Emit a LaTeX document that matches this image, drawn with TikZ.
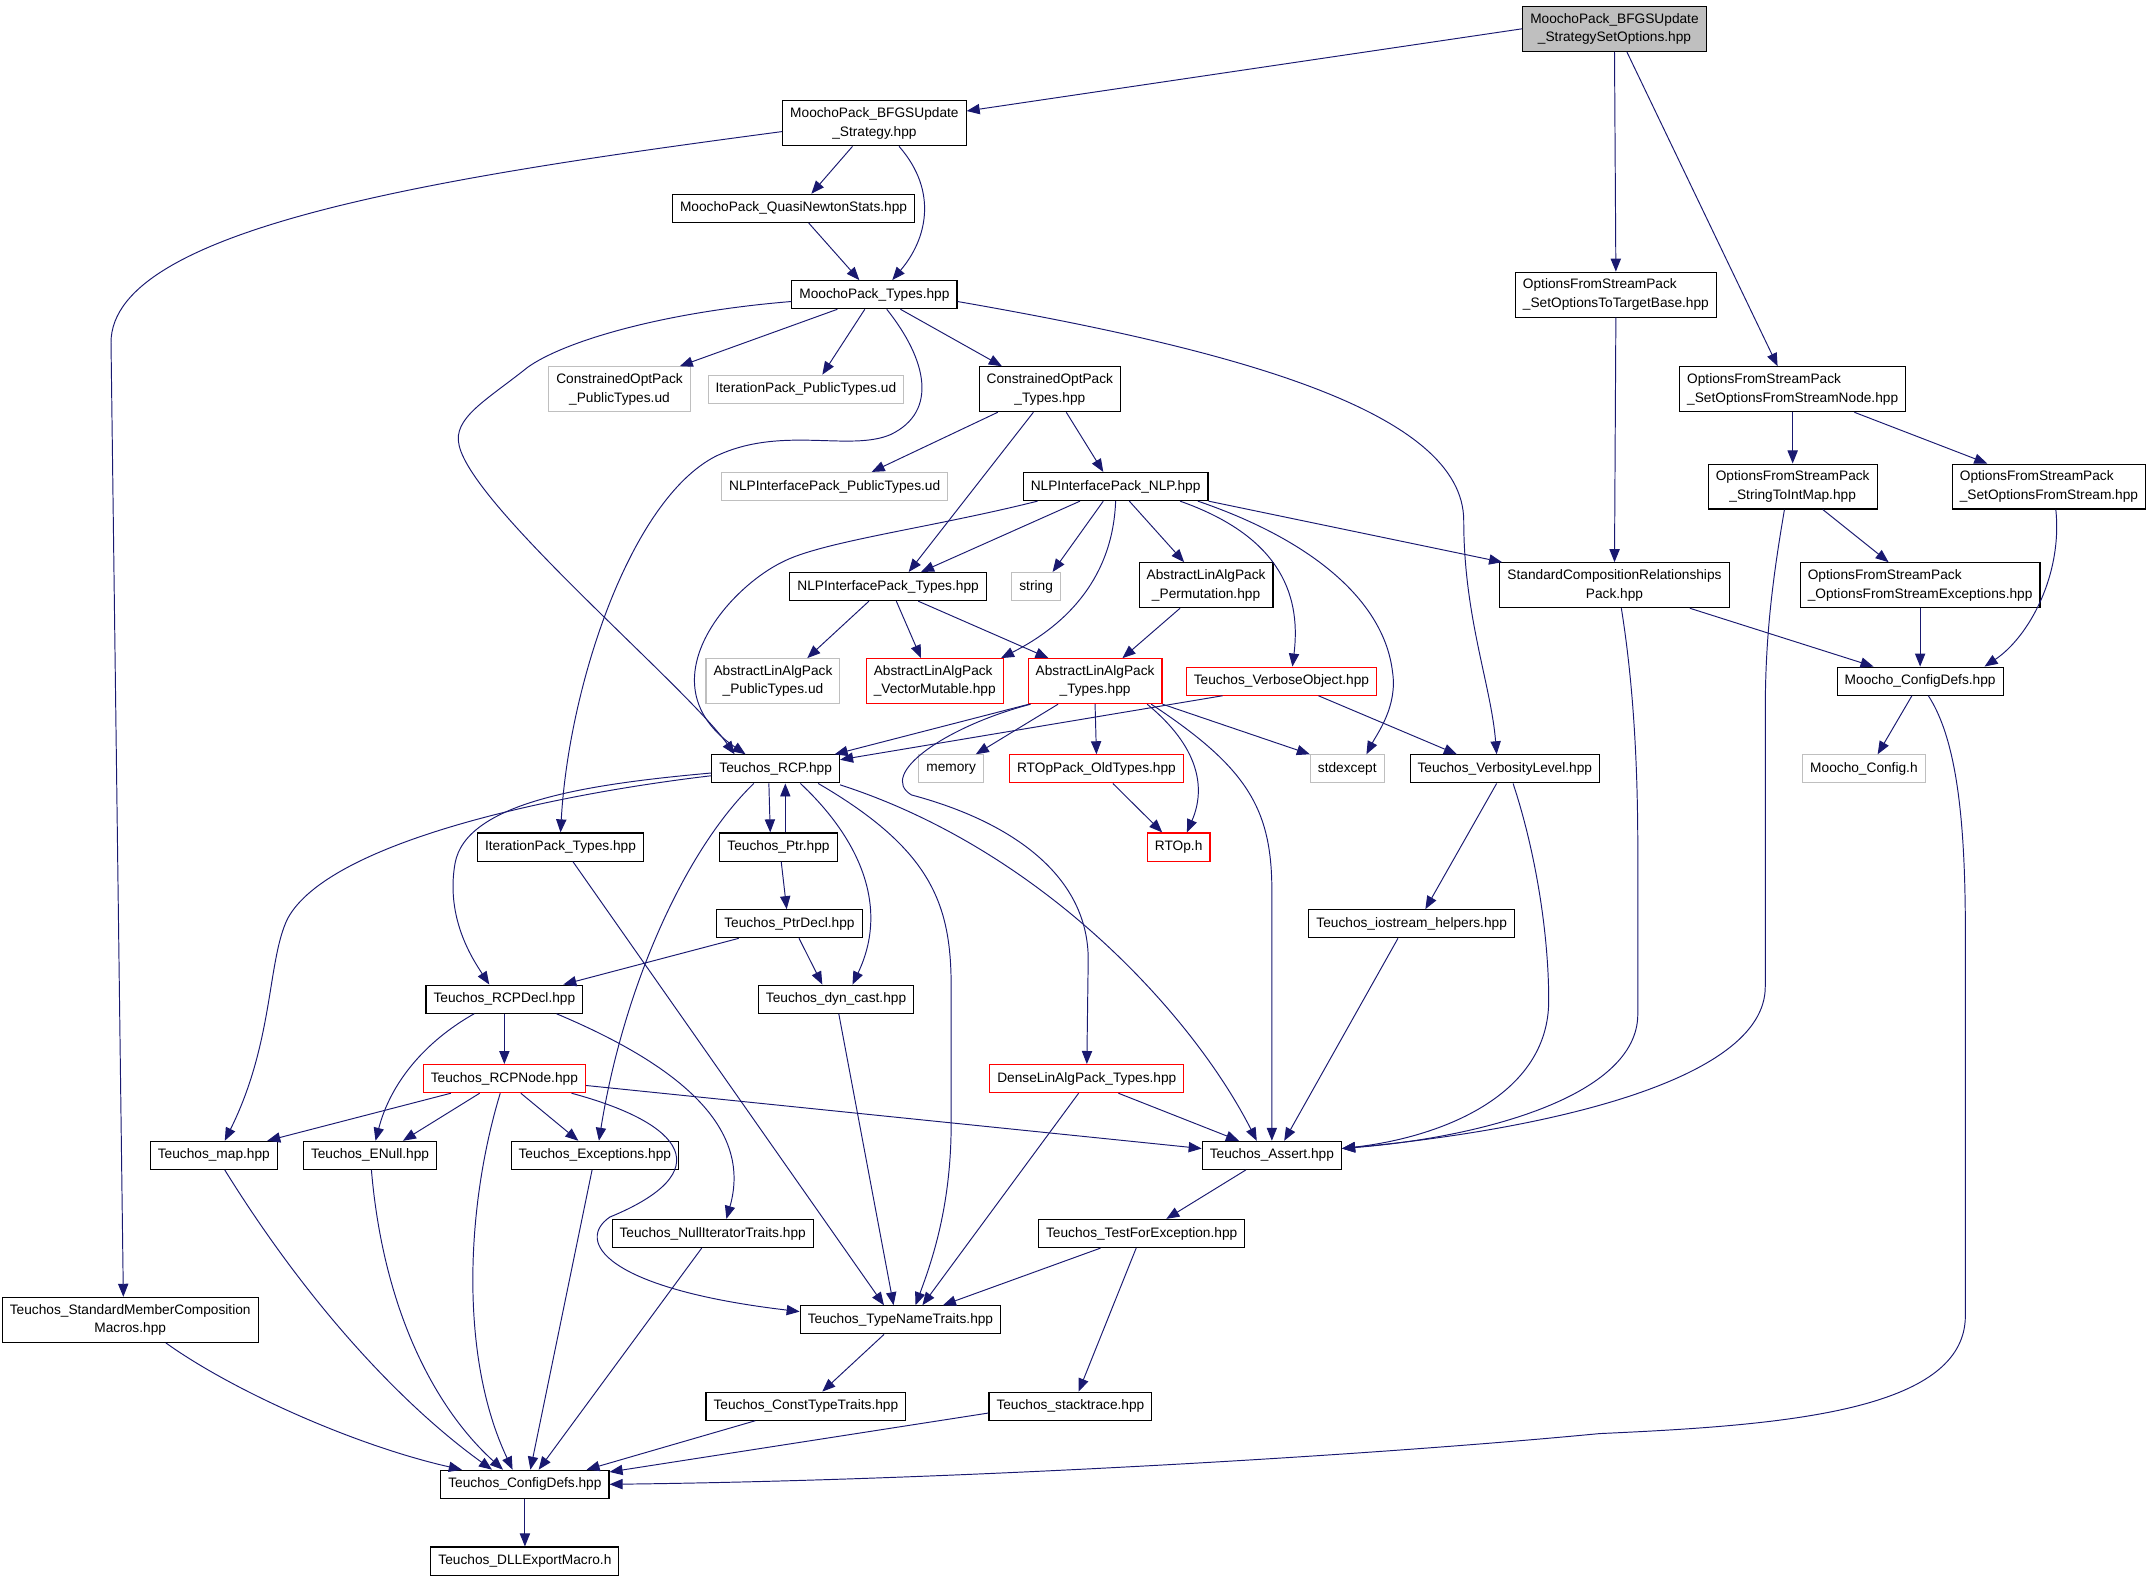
\documentclass[tikz,border=0pt]{standalone}
\usepackage{fontspec}
\setmainfont{Liberation Sans}
\usetikzlibrary{arrows.meta}
\definecolor{edgeblue}{HTML}{191970}
\definecolor{lightgrey}{HTML}{BFBFBF}

\tikzset{
  file/.style={draw=black,fill=white,rectangle,line width=0.8pt,align=center,
    font=\fontsize{10}{13.5}\selectfont,inner xsep=5.5pt,inner ysep=5pt,minimum height=20.5pt},
  undoc/.style={file,draw=lightgrey},
  redfile/.style={file,draw=red},
  rootfile/.style={file,fill=lightgrey},
  leftlab/.style={align=left},
  dep/.style={draw=edgeblue,line width=0.7pt,-{Triangle[length=9.5pt,width=7.5pt]}}
}

\begin{document}
\begin{tikzpicture}[x=1pt,y=-1pt]
\useasboundingbox (0,0) rectangle (1568,1153);

\node[rootfile] (setOpts) at (1178,21) {MoochoPack\_BFGSUpdate\\\_StrategySetOptions.hpp};
\node[file] (bfgs) at (638,90) {MoochoPack\_BFGSUpdate\\\_Strategy.hpp};
\node[file] (qnStats) at (579,152) {MoochoPack\_QuasiNewtonStats.hpp};
\node[file] (mpTypes) at (638,215) {MoochoPack\_Types.hpp};
\node[undoc] (coPub) at (452,284) {ConstrainedOptPack\\\_PublicTypes.ud};
\node[undoc] (itPub) at (588,284) {IterationPack\_PublicTypes.ud};
\node[file] (coTypes) at (766,284) {ConstrainedOptPack\\\_Types.hpp};
\node[file,leftlab] (toTarget) at (1179,215) {OptionsFromStreamPack\\\_SetOptionsToTargetBase.hpp};
\node[file,leftlab] (fromNode) at (1308,284) {OptionsFromStreamPack\\\_SetOptionsFromStreamNode.hpp};
\node[file] (strToInt) at (1308,355) {OptionsFromStreamPack\\\_StringToIntMap.hpp};
\node[file,leftlab] (fromStream) at (1495,355) {OptionsFromStreamPack\\\_SetOptionsFromStream.hpp};
\node[undoc] (nlpPub) at (609,355) {NLPInterfacePack\_PublicTypes.ud};
\node[file] (nlp) at (814,355) {NLPInterfacePack\_NLP.hpp};
\node[file] (stdComp) at (1178,427) {StandardCompositionRelationships\\Pack.hpp};
\node[file,leftlab] (ofsExc) at (1401,427) {OptionsFromStreamPack\\\_OptionsFromStreamExceptions.hpp};
\node[file] (nlpTypes) at (648,428) {NLPInterfacePack\_Types.hpp};
\node[undoc] (strH) at (756,428) {string};
\node[file] (perm) at (880,427) {AbstractLinAlgPack\\\_Permutation.hpp};
\node[undoc] (alapPub) at (564,497) {AbstractLinAlgPack\\\_PublicTypes.ud};
\node[redfile,leftlab] (vecMut) at (682,497) {AbstractLinAlgPack\\\_VectorMutable.hpp};
\node[redfile] (alapTypes) at (799,497) {AbstractLinAlgPack\\\_Types.hpp};
\node[redfile] (verbObj) at (935,497) {Teuchos\_VerboseObject.hpp};
\node[file] (mConfDefs) at (1401,497) {Moocho\_ConfigDefs.hpp};
\node[file] (rcp) at (566,561) {Teuchos\_RCP.hpp};
\node[undoc] (memory) at (694,561) {memory};
\node[redfile] (rtOld) at (800,561) {RTOpPack\_OldTypes.hpp};
\node[undoc] (stdexc) at (983,561) {stdexcept};
\node[file] (verbLvl) at (1098,561) {Teuchos\_VerbosityLevel.hpp};
\node[undoc] (mConf) at (1360,561) {Moocho\_Config.h};
\node[file] (itTypes) at (409,618) {IterationPack\_Types.hpp};
\node[file] (ptr) at (568,618) {Teuchos\_Ptr.hpp};
\node[redfile] (rtop) at (860,618) {RTOp.h};
\node[file] (ptrDecl) at (576,674) {Teuchos\_PtrDecl.hpp};
\node[file] (ioHelp) at (1030,674) {Teuchos\_iostream\_helpers.hpp};
\node[file] (rcpDecl) at (368,729) {Teuchos\_RCPDecl.hpp};
\node[file] (dynCast) at (610,729) {Teuchos\_dyn\_cast.hpp};
\node[redfile] (rcpNode) at (368,787) {Teuchos\_RCPNode.hpp};
\node[redfile] (dense) at (793,787) {DenseLinAlgPack\_Types.hpp};
\node[file] (map) at (156,843) {Teuchos\_map.hpp};
\node[file] (enull) at (270,843) {Teuchos\_ENull.hpp};
\node[file] (except) at (434,843) {Teuchos\_Exceptions.hpp};
\node[file] (assert) at (928,843) {Teuchos\_Assert.hpp};
\node[file] (nullIt) at (520,900) {Teuchos\_NullIteratorTraits.hpp};
\node[file] (testExc) at (833,900) {Teuchos\_TestForException.hpp};
\node[file] (memberComp) at (95,963) {Teuchos\_StandardMemberComposition\\Macros.hpp};
\node[file] (typeName) at (657,963) {Teuchos\_TypeNameTraits.hpp};
\node[file] (constType) at (588,1026) {Teuchos\_ConstTypeTraits.hpp};
\node[file] (stack) at (781,1026) {Teuchos\_stacktrace.hpp};
\node[file] (confDefs) at (383,1083) {Teuchos\_ConfigDefs.hpp};
\node[file] (dllExp) at (383,1139) {Teuchos\_DLLExportMacro.h};

\draw[dep] (setOpts.west) -- ([yshift=9pt]bfgs.east);
\draw[dep] (setOpts.south) -- (toTarget.north);
\draw[dep] ([xshift=9pt]setOpts.south) -- ([xshift=-11pt]fromNode.north);
\draw[dep] ([xshift=-16pt]bfgs.south) -- ([xshift=13pt]qnStats.north);
\draw[dep] ([xshift=18pt]bfgs.south) .. controls (685,140) and (676,175) .. ([xshift=13pt]mpTypes.north);
\draw[dep] ([yshift=-6pt]bfgs.west) .. controls (330,128) and (81,165) .. (81,250) -- ([xshift=-5pt]memberComp.north);
\draw[dep] ([xshift=11pt]qnStats.south) -- ([xshift=-11pt]mpTypes.north);

\draw[dep] ([xshift=-27pt]mpTypes.south) -- ([xshift=44pt]coPub.north);
\draw[dep] ([xshift=-7pt]mpTypes.south) -- ([xshift=12pt]itPub.north);
\draw[dep] ([xshift=19pt]mpTypes.south) -- ([xshift=-35pt]coTypes.north);
\draw[dep] ([xshift=9pt]mpTypes.south) .. controls (676,262) and (685,300) .. (650,317)
  .. controls (620,330) and (570,310) .. (522,333) .. controls (460,365) and (415,500) .. (itTypes.north);
\draw[dep] ([yshift=-5pt]mpTypes.west) .. controls (480,228) and (410,250) .. (385,268)
  .. controls (355,292) and (330,305) .. (335,325) .. controls (345,370) and (500,500) .. ([xshift=-30pt]rcp.north);
\draw[dep] ([yshift=-5pt]mpTypes.east) .. controls (900,255) and (1068,300) .. (1068,380)
  .. controls (1068,450) and (1088,500) .. ([xshift=-6pt]verbLvl.north);

\draw[dep] ([xshift=-38pt]coTypes.south) -- ([xshift=27pt]nlpPub.north);
\draw[dep] ([xshift=-12pt]coTypes.south) -- ([xshift=15pt]nlpTypes.north);
\draw[dep] ([xshift=12pt]coTypes.south) -- ([xshift=-9pt]nlp.north);

\draw[dep] ([xshift=-26pt]nlp.south) -- ([xshift=24pt]nlpTypes.north);
\draw[dep] ([xshift=-9pt]nlp.south) -- ([xshift=12pt]strH.north);
\draw[dep] (nlp.south) .. controls (812,420) and (780,455) .. ([xshift=-2pt]vecMut.north east);
\draw[dep] ([xshift=10pt]nlp.south) -- ([xshift=-16pt]perm.north);
\draw[dep] ([xshift=-57pt]nlp.south) .. controls (680,385) and (600,395) .. (571,410)
  .. controls (530,430) and (470,500) .. ([xshift=-22pt]rcp.north);
\draw[dep] (nlp.south east) -- ([xshift=2pt]stdComp.north west);
\draw[dep] ([xshift=47pt]nlp.south) .. controls (930,390) and (950,430) .. ([xshift=8pt]verbObj.north);
\draw[dep] ([xshift=60pt]nlp.south) .. controls (960,395) and (1010,440) .. (1016,490)
  .. controls (1020,515) and (1005,535) .. ([xshift=14pt]stdexc.north);

\draw[dep] ([xshift=-14pt]nlpTypes.south) -- ([xshift=25pt]alapPub.north);
\draw[dep] ([xshift=6pt]nlpTypes.south) -- ([xshift=-10pt]vecMut.north);
\draw[dep] ([xshift=22pt]nlpTypes.south) -- ([xshift=-34pt]alapTypes.north);
\draw[dep] ([xshift=-19pt]perm.south) -- ([xshift=20pt]alapTypes.north);

\draw[dep] ([xshift=1pt]alapTypes.south west) -- ([xshift=43pt]rcp.north);
\draw[dep] ([xshift=-47pt]alapTypes.south) .. controls (690,530) and (640,565) .. (665,580)
  .. controls (740,600) and (794,640) .. (794,700) -- (dense.north);
\draw[dep] ([xshift=-27pt]alapTypes.south) -- ([xshift=18pt]memory.north);
\draw[dep] (alapTypes.south) -- (rtOld.north);
\draw[dep] ([xshift=38pt]alapTypes.south) .. controls (875,545) and (880,575) .. ([xshift=6pt]rtop.north);
\draw[dep] (alapTypes.south east) -- (stdexc.north west);
\draw[dep] ([xshift=41pt]alapTypes.south) .. controls (910,560) and (928,590) .. (928,650) -- (assert.north);

\draw[dep] ([xshift=-43pt]verbObj.south) -- ([yshift=-4pt]rcp.north east);
\draw[dep] ([xshift=27pt]verbObj.south) -- ([xshift=-35pt]verbLvl.north);
\draw[dep] ([xshift=12pt]rtOld.south) -- ([xshift=-12pt]rtop.north);

\draw[dep] (toTarget.south) -- (stdComp.north);
\draw[dep] (fromNode.south) -- (strToInt.north);
\draw[dep] ([xshift=45pt]fromNode.south) -- ([xshift=-45pt]fromStream.north);
\draw[dep] ([xshift=22pt]strToInt.south) -- ([xshift=-23pt]ofsExc.north);
\draw[dep] ([xshift=-6pt]strToInt.south) .. controls (1292,430) and (1288,470) .. (1288,520) -- (1288,720)
  .. controls (1288,790) and (1120,825) .. ([yshift=5pt]assert.east);
\draw[dep] ([xshift=5pt]stdComp.south) .. controls (1192,500) and (1195,560) .. (1195,620) -- (1195,740)
  .. controls (1195,800) and (1080,830) .. ([yshift=5pt]assert.east);
\draw[dep] ([xshift=55pt]stdComp.south) -- ([xshift=-34pt]mConfDefs.north);
\draw[dep] ([xshift=5pt]fromStream.south) .. controls (1505,420) and (1480,465) .. ([xshift=47pt]mConfDefs.north);
\draw[dep] (ofsExc.south) -- (mConfDefs.north);
\draw[dep] ([xshift=-6pt]mConfDefs.south) -- ([xshift=10pt]mConf.north);
\draw[dep] ([xshift=6pt]mConfDefs.south) .. controls (1428,540) and (1434,600) .. (1434,680) -- (1434,960)
  .. controls (1434,1030) and (1300,1040) .. (1167,1046) .. controls (1000,1062) and (700,1080) .. (confDefs.east);

\draw[dep] ([xshift=-6pt]verbLvl.south) -- ([xshift=10pt]ioHelp.north);
\draw[dep] ([xshift=6pt]verbLvl.south) .. controls (1120,620) and (1130,680) .. (1130,730)
  .. controls (1130,800) and (1050,830) .. ([yshift=5pt]assert.east);
\draw[dep] ([xshift=-10pt]ioHelp.south) -- ([xshift=9pt]assert.north);

\draw[dep] ([xshift=-5pt]rcp.south) -- ([xshift=-6pt]ptr.north);
\draw[dep] ([xshift=5pt]ptr.north) -- ([xshift=7pt]rcp.south);
\draw[dep] ([yshift=-3pt]rcp.west) .. controls (430,572) and (340,585) .. (332,630)
  .. controls (325,670) and (345,700) .. ([xshift=-11pt]rcpDecl.north);
\draw[dep] ([yshift=-5pt]rcp.west) .. controls (400,580) and (240,615) .. (210,670)
  .. controls (195,700) and (200,760) .. ([xshift=8pt]map.north);
\draw[dep] ([xshift=-16pt]rcp.south) .. controls (500,620) and (455,720) .. ([xshift=3pt]except.north);
\draw[dep] ([xshift=18pt]rcp.south) .. controls (625,610) and (650,660) .. ([xshift=12pt]dynCast.north);
\draw[dep] ([xshift=31pt]rcp.south) .. controls (680,620) and (694,660) .. (694,720) -- (694,820)
  .. controls (694,880) and (680,920) .. ([xshift=11pt]typeName.north);
\draw[dep] ([yshift=-1pt]rcp.south east) .. controls (760,620) and (870,740) .. ([xshift=-11pt]assert.north);

\draw[dep] ([xshift=2pt]ptr.south) -- ([xshift=-2pt]ptrDecl.north);
\draw[dep] ([xshift=-37pt]ptrDecl.south) -- ([xshift=43pt]rcpDecl.north);
\draw[dep] ([xshift=7pt]ptrDecl.south) -- ([xshift=-10pt]dynCast.north);
\draw[dep] ([xshift=9pt]itTypes.south) -- ([xshift=-12pt]typeName.north);
\draw[dep] ([xshift=2pt]dynCast.south) -- ([xshift=-5pt]typeName.north);
\draw[dep] ([xshift=-6pt]dense.south) -- ([xshift=16pt]typeName.north);
\draw[dep] ([xshift=23pt]dense.south) -- ([xshift=-24pt]assert.north);

\draw[dep] (rcpDecl.south) -- (rcpNode.north);
\draw[dep] ([xshift=-22pt]rcpDecl.south) .. controls (310,760) and (285,790) .. ([xshift=4pt]enull.north);
\draw[dep] ([xshift=38pt]rcpDecl.south) .. controls (490,775) and (550,820) .. ([xshift=10pt]nullIt.north);

\draw[dep] ([xshift=-39pt]rcpNode.south) -- ([xshift=39pt]map.north);
\draw[dep] ([xshift=-18pt]rcpNode.south) -- ([xshift=24pt]enull.north);
\draw[dep] ([xshift=12pt]rcpNode.south) -- ([xshift=-12pt]except.north);
\draw[dep] ([xshift=-3pt]rcpNode.south) .. controls (340,880) and (335,990) .. ([xshift=-9pt]confDefs.north);
\draw[dep] ([xshift=49pt]rcpNode.south) .. controls (500,820) and (525,855) .. (445,888)
  .. controls (420,905) and (440,940) .. ([yshift=6pt]typeName.west);
\draw[dep] ([yshift=-5pt]rcpNode.east) -- ([yshift=5pt]assert.west);

\draw[dep] ([xshift=8pt]map.south) .. controls (230,960) and (300,1030) .. ([xshift=-24pt]confDefs.north);
\draw[dep] ([xshift=1pt]enull.south) .. controls (280,960) and (320,1030) .. ([xshift=-16pt]confDefs.north);
\draw[dep] ([xshift=-2pt]except.south) -- ([xshift=4pt]confDefs.north);
\draw[dep] ([xshift=-8pt]nullIt.south) -- ([xshift=10pt]confDefs.north);
\draw[dep] ([xshift=26pt]memberComp.south) .. controls (170,1015) and (260,1055) .. ([xshift=-46pt]confDefs.north);
\draw[dep] ([xshift=-37pt]constType.south) -- ([xshift=45pt]confDefs.north);
\draw[dep] ([yshift=-5pt]stack.west) -- ([yshift=9pt]confDefs.east);
\draw[dep] (confDefs.south) -- (dllExp.north);

\draw[dep] ([xshift=-19pt]assert.south) -- ([xshift=18pt]testExc.north);
\draw[dep] ([xshift=-30pt]testExc.south) -- ([xshift=31pt]typeName.north);
\draw[dep] ([xshift=-4pt]testExc.south) -- ([xshift=6pt]stack.north);
\draw[dep] ([xshift=-12pt]typeName.south) -- ([xshift=12pt]constType.north);
\end{tikzpicture}
\end{document}
